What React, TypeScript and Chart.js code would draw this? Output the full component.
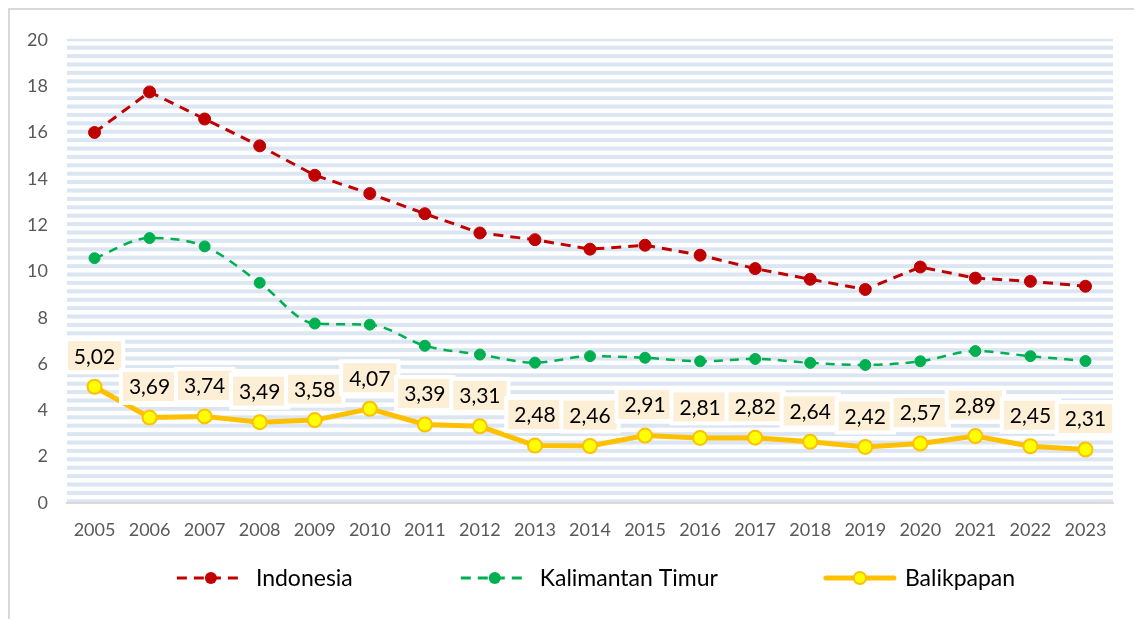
import React, { useEffect, useRef } from "react";
import { Chart, registerables } from "chart.js";

Chart.register(...registerables);

const years = ["2005","2006","2007","2008","2009","2010","2011","2012","2013","2014","2015","2016","2017","2018","2019","2020","2021","2022","2023"];
const indonesia = [16.0, 17.75, 16.58, 15.42, 14.15, 13.36, 12.49, 11.66, 11.37, 10.96, 11.13, 10.70, 10.12, 9.66, 9.22, 10.19, 9.71, 9.57, 9.36];
const kaltim = [10.57, 11.44, 11.08, 9.51, 7.75, 7.70, 6.79, 6.41, 6.06, 6.34, 6.27, 6.12, 6.22, 6.05, 5.96, 6.12, 6.56, 6.34, 6.13];
const balikpapan = [5.02, 3.69, 3.74, 3.49, 3.58, 4.07, 3.39, 3.31, 2.48, 2.46, 2.91, 2.81, 2.82, 2.64, 2.42, 2.57, 2.89, 2.45, 2.31];
const seriesNames = ["Indonesia", "Kalimantan Timur", "Balikpapan"];
const yTicks = [0, 2, 4, 6, 8, 10, 12, 14, 16, 18, 20];

const FONT = "Lato, 'Open Sans', sans-serif";
const RED = "#c00000";
const GREEN = "#00b050";
const GOLD = "#ffc000";
const YELLOW = "#ffff00";

const stripes = {
  id: "stripes",
  beforeDraw(chart: any) {
    const { ctx, chartArea } = chart;
    const { left, right, top, bottom } = chartArea;
    ctx.save();
    ctx.fillStyle = "#dce6f2";
    for (let y = top - 2.5; y < bottom; y += 8.4) {
      const y0 = Math.max(y, top - 1);
      const y1 = Math.min(y + 4, bottom);
      if (y1 > y0) ctx.fillRect(left, y0, right - left, y1 - y0);
    }
    ctx.restore();
  },
};

const fmt = (v: number) => v.toFixed(2).replace(".", ",");

const labels = {
  id: "balLabels",
  afterDatasetsDraw(chart: any) {
    const { ctx } = chart;
    const meta = chart.getDatasetMeta(2);
    ctx.save();
    ctx.font = `21px ${FONT}`;
    ctx.textAlign = "center";
    ctx.textBaseline = "middle";
    meta.data.forEach((pt: any, i: number) => {
      const text = fmt(balikpapan[i]);
      const w = ctx.measureText(text).width + 12;
      const h = 29;
      const cx = pt.x;
      const cy = pt.y - 31;
      ctx.fillStyle = "#ffffff";
      ctx.fillRect(cx - w / 2 - 4, cy - h / 2 - 4, w + 8, h + 8);
      ctx.fillStyle = "#fcefd6";
      ctx.fillRect(cx - w / 2, cy - h / 2, w, h);
      ctx.fillStyle = "#000000";
      ctx.fillText(text, cx, cy + 1);
    });
    ctx.restore();
  },
};

const legend = {
  id: "customLegend",
  afterDraw(chart: any) {
    const { ctx } = chart;
    const y = 568;
    ctx.save();
    ctx.font = `23px ${FONT}`;
    ctx.textBaseline = "middle";
    const styles = [
      { color: RED, fill: RED, dash: [10, 7], lw: 3, r: 6 },
      { color: GREEN, fill: GREEN, dash: [10, 7], lw: 3, r: 6 },
      { color: GOLD, fill: YELLOW, dash: [], lw: 5, r: 6 },
    ];
    const sym = 68;
    const gapText = 11;
    const gapEntry = 108;
    const widths = seriesNames.map((n) => ctx.measureText(n).width);
    const total = widths.reduce((a, b) => a + b, 0) + 3 * (sym + gapText) + 2 * gapEntry;
    const center = (chart.chartArea.left + chart.chartArea.right) / 2 + 6;
    let x = center - total / 2;
    seriesNames.forEach((name, i) => {
      const s = styles[i];
      ctx.strokeStyle = s.color;
      ctx.lineWidth = s.lw;
      ctx.lineCap = i === 2 ? "round" : "butt";
      ctx.setLineDash(s.dash);
      ctx.beginPath();
      ctx.moveTo(x, y);
      ctx.lineTo(x + sym, y);
      ctx.stroke();
      ctx.setLineDash([]);
      ctx.beginPath();
      ctx.arc(x + sym / 2, y, s.r, 0, Math.PI * 2);
      ctx.fillStyle = s.fill;
      ctx.fill();
      if (i === 2) {
        ctx.lineWidth = 2;
        ctx.strokeStyle = GOLD;
        ctx.stroke();
      }
      ctx.fillStyle = "#000000";
      ctx.fillText(name, x + sym + gapText, y + 1);
      x += sym + gapText + widths[i] + gapEntry;
    });
    ctx.restore();
  },
};

export default function App() {
  const ref = useRef<HTMLCanvasElement | null>(null);
  useEffect(() => {
    document.body.style.overflow = "hidden";
    document.documentElement.style.overflow = "hidden";
    if (!ref.current) return;
    const chart = new Chart(ref.current, {
      type: "line",
      data: {
        labels: years,
        datasets: [
          {
            label: seriesNames[0],
            data: indonesia,
            borderColor: RED,
            backgroundColor: RED,
            borderWidth: 3,
            borderDash: [10, 7],
            pointRadius: 6,
            pointBackgroundColor: RED,
            pointBorderColor: RED,
            pointBorderWidth: 1,
            tension: 0,
          },
          {
            label: seriesNames[1],
            data: kaltim,
            borderColor: GREEN,
            backgroundColor: GREEN,
            borderWidth: 2.5,
            borderDash: [9, 7],
            pointRadius: 5.5,
            pointBackgroundColor: GREEN,
            pointBorderColor: GREEN,
            pointBorderWidth: 1,
            cubicInterpolationMode: "monotone",
            tension: 0.4,
          },
          {
            label: seriesNames[2],
            data: balikpapan,
            borderColor: GOLD,
            backgroundColor: YELLOW,
            borderWidth: 5,
            pointRadius: 7,
            pointBackgroundColor: YELLOW,
            pointBorderColor: GOLD,
            pointBorderWidth: 2,
            tension: 0,
          },
        ],
      },
      options: {
        animation: false,
        responsive: false,
        layout: { padding: { top: 28, right: 21, left: 0, bottom: 0 } },
        plugins: { legend: { display: false }, tooltip: { enabled: false } },
        scales: {
          x: {
            offset: true,
            grid: { display: false, drawTicks: false },
            border: { display: true, color: "#d9d9d9", width: 2 },
            ticks: { color: "#595959", font: { family: FONT, size: 18 }, padding: 16, maxRotation: 0 },
            afterFit: (s: any) => { s.height = 116; },
          },
          y: {
            min: 0,
            max: 20,
            afterBuildTicks: (s: any) => { s.ticks = yTicks.map((v) => ({ value: v })); },
            grid: { display: false, drawTicks: false },
            border: { display: false },
            ticks: { color: "#595959", font: { family: FONT, size: 18 }, padding: 19 },
            afterFit: (s: any) => { s.width = 57; },
          },
        },
      },
      plugins: [stripes, labels, legend],
    } as any);
    return () => chart.destroy();
  }, []);
  return (
    <div style={{ position: "absolute", left: 8, top: 8, border: "2px solid #d9d9d9", width: 1140, height: 620, background: "#fff" }}>
      <canvas ref={ref} width={1124} height={609} style={{ display: "block" }} />
    </div>
  );
}
